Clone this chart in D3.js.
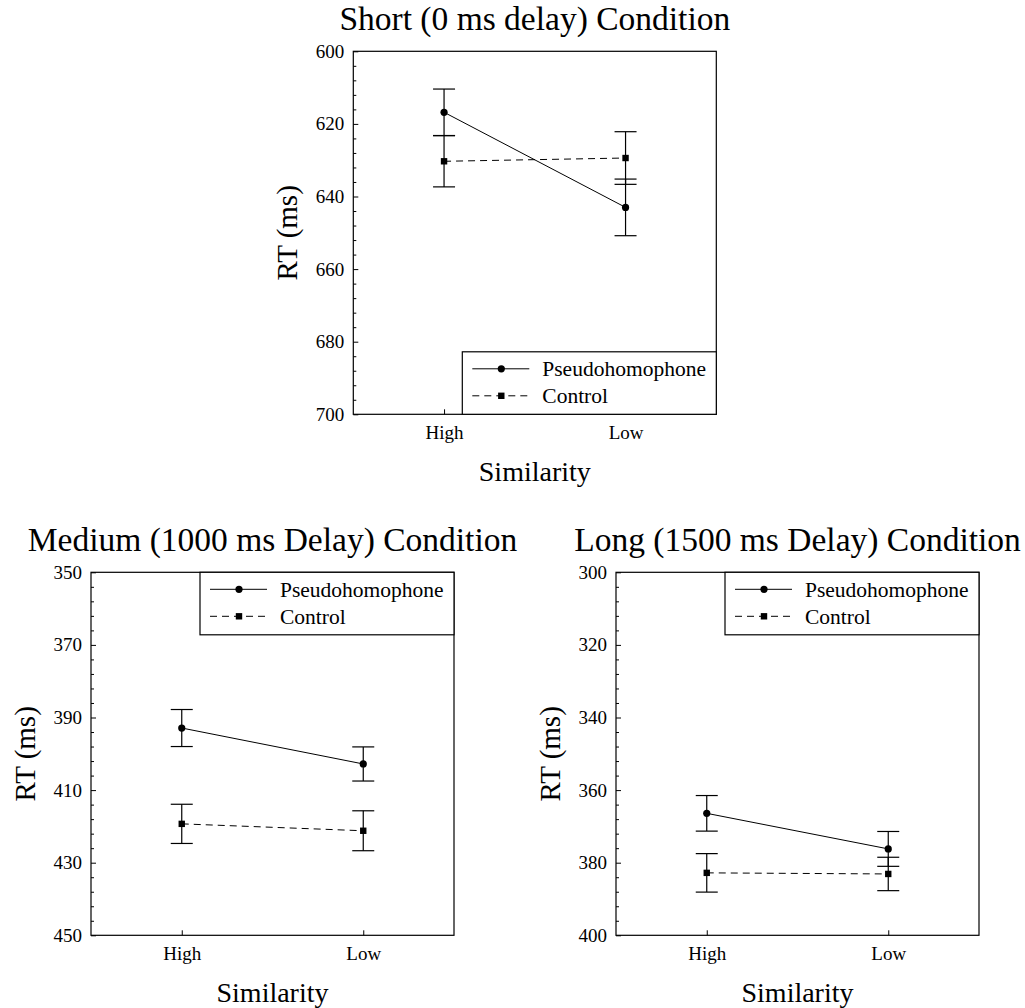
<!DOCTYPE html>
<html>
<head>
<meta charset="utf-8">
<script src="https://cdn.jsdelivr.net/npm/d3@7"></script>
<style>
  body { margin: 0; background: #fff; }
</style>
</head>
<body>
<div id="chart"></div>
<script>
// similarity levels on the x axis
const similarity = ["High", "Low"]
const seriesNames = ["Pseudohomophone", "Control"]

// short (0 ms delay)
const shortPseudo = [616.8, 643.0]
const shortPseudoErr = [6.4, 7.8]
const shortControl = [630.3, 629.4]
const shortControlErr = [7.05, 7.25]
const shortTicks = [600, 620, 640, 660, 680, 700]

// medium (1000 ms delay)
const mediumPseudo = [392.9, 402.8]
const mediumPseudoErr = [5.1, 4.7]
const mediumControl = [419.3, 421.2]
const mediumControlErr = [5.4, 5.5]
const mediumTicks = [350, 370, 390, 410, 430, 450]

// long (1500 ms delay)
const longPseudo = [366.4, 376.2]
const longPseudoErr = [4.9, 4.8]
const longControl = [382.8, 383.1]
const longControlErr = [5.3, 4.6]
const longTicks = [300, 320, 340, 360, 380, 400]

const SIZE = 363
const FONT = "Liberation Serif"
const FONT_TICK = 19

const panels = [
    { title: "Short (0 ms delay) Condition", left: 353.3, top: 51.3, ticks: shortTicks, legend: "bottom",
      series: [[shortPseudo, shortPseudoErr], [shortControl, shortControlErr]] },
    { title: "Medium (1000 ms Delay) Condition", left: 91, top: 572.3, ticks: mediumTicks, legend: "top",
      series: [[mediumPseudo, mediumPseudoErr], [mediumControl, mediumControlErr]] },
    { title: "Long (1500 ms Delay) Condition", left: 616, top: 572.3, ticks: longTicks, legend: "top",
      series: [[longPseudo, longPseudoErr], [longControl, longControlErr]] }
]

const svg = d3.select("#chart")
    .append("svg")
    .attr("width", 1025)
    .attr("height", 1008)
    .attr("font-family", FONT)

const dashes = [null, "7,5"]

panels.forEach(p => {
    const g = svg.append("g")
        .attr("transform", "translate(" + p.left + "," + p.top + ")")

    const lo = p.ticks[0], hi = p.ticks[p.ticks.length - 1]

    // reversed axis: smaller RT at the top
    const y = d3.scaleLinear()
        .domain([lo, hi])
        .range([0, SIZE])

    const x = d3.scalePoint()
        .domain(similarity)
        .range([0, SIZE])
        .padding(0.5)

    // minor ticks every 4 ms
    const minor = d3.range(lo, hi + 0.1, 4).filter(v => !p.ticks.includes(v))
    g.append("g")
        .call(d3.axisLeft(y).tickValues(minor).tickFormat("").tickSize(-3))
        .call(a => a.select(".domain").remove())

    g.append("g")
        .call(d3.axisLeft(y).tickValues(p.ticks).tickSize(-5).tickPadding(9))
        .attr("font-family", FONT)
        .attr("font-size", FONT_TICK)
        .call(a => a.select(".domain").remove())

    g.append("g")
        .attr("transform", "translate(0," + SIZE + ")")
        .call(d3.axisBottom(x).tickSize(-5).tickPadding(11.5))
        .attr("font-family", FONT)
        .attr("font-size", FONT_TICK)
        .call(a => a.select(".domain").remove())

    g.selectAll(".tick line").attr("stroke", "#000")
    g.selectAll(".tick text").attr("fill", "#000")

    // frame
    g.append("rect")
        .attr("width", SIZE)
        .attr("height", SIZE)
        .attr("fill", "none")
        .attr("stroke", "#000")
        .attr("stroke-width", 1.2)

    // titles
    g.append("text")
        .attr("x", SIZE / 2)
        .attr("y", -21)
        .attr("text-anchor", "middle")
        .attr("font-size", 33.5)
        .text(p.title)

    g.append("text")
        .attr("x", SIZE / 2)
        .attr("y", SIZE + 66.5)
        .attr("text-anchor", "middle")
        .attr("font-size", 28)
        .text("Similarity")

    g.append("text")
        .attr("transform", "translate(-56," + SIZE / 2 + ") rotate(-90)")
        .attr("text-anchor", "middle")
        .attr("font-size", 29)
        .text("RT (ms)")

    // series
    p.series.forEach(([vals, errs], i) => {
        const pts = similarity.map((s, j) => ({ s: s, v: vals[j], e: errs[j] }))

        g.append("path")
            .datum(pts)
            .attr("fill", "none")
            .attr("stroke", "#000")
            .attr("stroke-width", 1)
            .attr("stroke-dasharray", dashes[i])
            .attr("d", d3.line().x(d => x(d.s)).y(d => y(d.v)))

        const eb = g.append("g")
        pts.forEach(d => {
            const cx = x(d.s)
            eb.append("line").attr("x1", cx).attr("x2", cx)
                .attr("y1", y(d.v - d.e)).attr("y2", y(d.v + d.e))
                .attr("stroke", "#000").attr("stroke-width", 1.2)
            ;[d.v - d.e, d.v + d.e].forEach(v => {
                eb.append("line").attr("x1", cx - 11).attr("x2", cx + 11)
                    .attr("y1", y(v)).attr("y2", y(v))
                    .attr("stroke", "#000").attr("stroke-width", 1.2)
            })
        })

        if (i === 0) {
            g.selectAll(".pt" + i).data(pts).enter().append("circle")
                .attr("cx", d => x(d.s)).attr("cy", d => y(d.v)).attr("r", 3.6)
                .attr("fill", "#000")
        } else {
            g.selectAll(".pt" + i).data(pts).enter().append("rect")
                .attr("x", d => x(d.s) - 3.2).attr("y", d => y(d.v) - 3.2)
                .attr("width", 6.4).attr("height", 6.4)
                .attr("fill", "#000")
        }
    })

    // legend
    const LW = 254, LH = 62.5
    const lg = g.append("g")
        .attr("transform", "translate(" + (SIZE - LW) + "," + (p.legend === "bottom" ? SIZE - LH : 0) + ")")

    lg.append("rect")
        .attr("width", LW).attr("height", LH)
        .attr("fill", "#fff").attr("stroke", "#000").attr("stroke-width", 1.2)

    seriesNames.forEach((name, i) => {
        const ry = 17 + i * 27
        lg.append("line")
            .attr("x1", 10).attr("x2", 67).attr("y1", ry).attr("y2", ry)
            .attr("stroke", "#000").attr("stroke-dasharray", dashes[i])
        if (i === 0) {
            lg.append("circle").attr("cx", 39).attr("cy", ry).attr("r", 3.6).attr("fill", "#000")
        } else {
            lg.append("rect").attr("x", 39 - 3.2).attr("y", ry - 3.2)
                .attr("width", 6.4).attr("height", 6.4).attr("fill", "#000")
        }
        lg.append("text")
            .attr("x", 80).attr("y", ry + 7.5)
            .attr("font-size", 21.5)
            .text(name)
    })
})
</script>
</body>
</html>
